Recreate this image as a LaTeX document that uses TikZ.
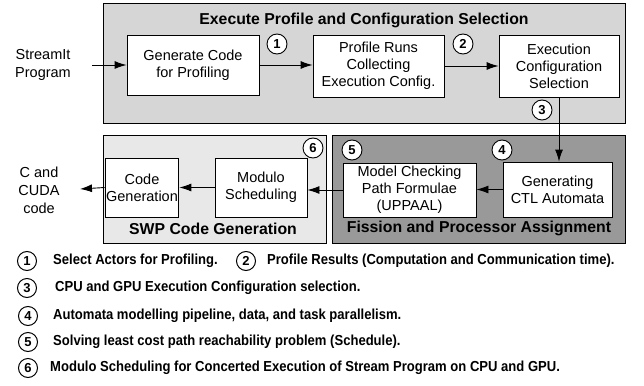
\documentclass[tikz,border=0pt]{standalone}
\usepackage{fontspec}
\setmainfont{Liberation Sans}
\newfontfamily\legendfont[FakeStretch=0.9]{Liberation Sans}
\usetikzlibrary{arrows.meta}
\definecolor{panelA}{gray}{0.84}
\definecolor{panelB}{gray}{0.91}
\definecolor{panelC}{gray}{0.60}
\tikzset{
  panel/.style={draw, line width=0.9pt, inner sep=0pt},
  stepbox/.style={draw, fill=white, line width=0.9pt, inner sep=1pt, align=center,
    font=\fontsize{14.5}{17}\selectfont},
  paneltitle/.style={font=\fontsize{15.8}{18}\selectfont\bfseries},
  numcirc/.style={draw, fill=white, circle, line width=0.9pt, minimum size=20pt, inner sep=0pt,
    font=\fontsize{13}{13}\selectfont\bfseries},
  legcirc/.style={draw, circle, line width=1pt, minimum size=19pt, inner sep=0pt,
    font=\fontsize{13}{13}\selectfont\bfseries},
  legtext/.style={anchor=west, inner sep=0pt, font=\fontsize{14.5}{16}\legendfont\bfseries},
  plain/.style={align=center, inner sep=0pt, font=\fontsize{14.5}{18}\selectfont},
  flow/.style={line width=0.9pt, -{Latex[length=12pt,width=8pt]}},
}
\begin{document}
\begin{tikzpicture}[x=1pt,y=-1pt]
  \useasboundingbox (0,0) rectangle (644,385);

  % panels
  \node[panel, fill=panelA, minimum width=522pt, minimum height=120pt] (ptop) at (364,63) {};
  \node[panel, fill=panelB, minimum width=223pt, minimum height=108pt] (pswp) at (214.5,189) {};
  \node[panel, fill=panelC, minimum width=293pt, minimum height=108pt] (pfis) at (478.5,189) {};

  \node[paneltitle] (ttop) at (364,20) {Execute Profile and Configuration Selection};
  \node[paneltitle] (tswp) at (213,229) {SWP Code Generation};
  \node[paneltitle] (tfis) at (479,228) {Fission and Processor Assignment};

  % steps
  \node[stepbox, minimum width=132pt, minimum height=60pt] (gen) at (193,65) {Generate Code\\for Profiling};
  \node[stepbox, minimum width=131pt, minimum height=62pt] (prof) at (378.5,66) {Profile Runs\\Collecting\\Execution Config.};
  \node[stepbox, minimum width=120pt, minimum height=62pt] (sel) at (559,66) {Execution\\Configuration\\Selection};
  \node[stepbox, minimum width=109pt, minimum height=55pt] (ctl) at (557.5,189.5) {Generating\\CTL Automata};
  \node[stepbox, minimum width=133pt, minimum height=54pt] (mc) at (409.5,190) {Model Checking\\Path Formulae\\(UPPAAL)};
  \node[stepbox, minimum width=92pt, minimum height=59pt] (mod) at (261,187.5) {Modulo\\Scheduling};
  \node[stepbox, minimum width=70pt, minimum height=59pt] (cg) at (142,187.5) {Code\\Generation};

  % input and output
  \node[plain] (src) at (43,65) {StreamIt\\Program};
  \node[plain] (out) at (39,190) {C and\\CUDA\\code};
  \coordinate (srcend) at (92,65);
  \coordinate (outend) at (80,189);

  % connectors
  \draw[flow] (srcend) -- (gen.west);
  \draw[flow] (gen.east) -- (gen.east -| prof.west);
  \draw[flow] (prof.east) -- (prof.east -| sel.west);
  \draw[flow] (sel.south) -- (sel.south |- ctl.north);
  \draw[flow] (ctl.west) -- (ctl.west -| mc.east);
  \draw[flow] (mc.west) -- (mc.west -| mod.east);
  \draw[flow] (mod.west) -- (mod.west -| cg.east);
  \draw[flow] (cg.west) -- (outend);

  % step numbers
  \node[numcirc] (n1) at (277,44) {1};
  \node[numcirc] (n2) at (463,44) {2};
  \node[numcirc] (n3) at (542,110) {3};
  \node[numcirc] (n4) at (502,150) {4};
  \node[numcirc] (n5) at (352,150) {5};
  \node[numcirc] (n6) at (313,148) {6};

  % legend
  \node[legcirc] (l1) at (27,261) {1};
  \node[legtext] (lt1) at (53,261) {Select Actors for Profiling.};
  \node[legcirc] (l2) at (246,261) {2};
  \node[legtext] (lt2) at (267,261) {Profile Results (Computation and Communication time).};
  \node[legcirc] (l3) at (27,288) {3};
  \node[legtext] (lt3) at (55,288) {CPU and GPU Execution Configuration selection.};
  \node[legcirc] (l4) at (28,316) {4};
  \node[legtext] (lt4) at (53,316) {Automata modelling pipeline, data, and task parallelism.};
  \node[legcirc] (l5) at (28,342) {5};
  \node[legtext] (lt5) at (53,342) {Solving least cost path reachability problem (Schedule).};
  \node[legcirc] (l6) at (28,368) {6};
  \node[legtext] (lt6) at (50,368) {Modulo Scheduling for Concerted Execution of Stream Program on CPU and GPU.};
\end{tikzpicture}
\end{document}
